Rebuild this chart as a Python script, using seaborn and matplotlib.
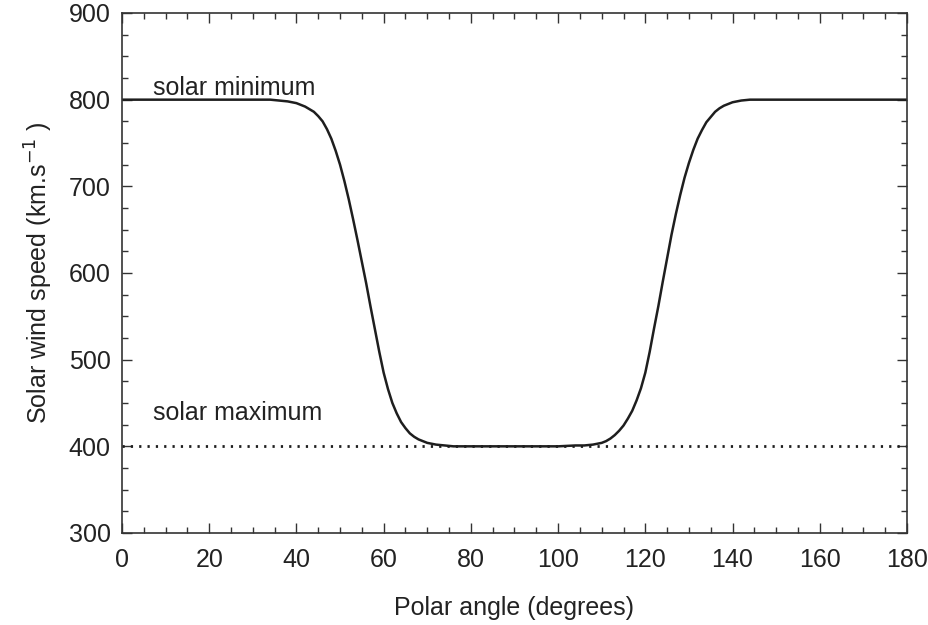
import matplotlib
matplotlib.use("Agg")
import matplotlib.pyplot as plt
import seaborn as sns
import pandas as pd
from matplotlib.ticker import MultipleLocator

# Polar angle (degrees) and solar wind speed (km/s)
angle = [0, 10, 20, 30, 34, 36, 38, 40, 41, 42, 43, 44, 45, 46, 47, 48, 49,
         50, 51, 52, 53, 54, 55, 56, 57, 58, 59, 60, 61, 62, 63, 64, 65, 66,
         67, 68, 69, 70, 72, 74, 76, 80, 90, 100, 104, 106, 108, 110, 111,
         112, 113, 114, 115, 116, 117, 118, 119, 120, 121, 122, 123, 124,
         125, 126, 127, 128, 129, 130, 131, 132, 133, 134, 135, 136, 137,
         138, 139, 140, 142, 144, 146, 160, 180]
speed_min = [800, 800, 800, 800, 800, 799, 798, 796, 794, 792, 789, 786, 781,
             775, 766, 755, 741, 725, 706, 685, 662, 638, 613, 588, 561, 535,
             509, 485, 466, 450, 438, 428, 421, 415, 411, 408, 406, 404, 402,
             401, 400, 400, 400, 400, 401, 401, 402, 404, 406, 409, 413, 418,
             424, 432, 441, 453, 467, 485, 509, 536, 562, 590, 617, 644, 668,
             690, 710, 727, 742, 755, 765, 774, 780, 786, 790, 793, 795, 797,
             799, 800, 800, 800, 800]
max_angle = [0, 180]
speed_max = [400, 400]

x_ticks = [0, 20, 40, 60, 80, 100, 120, 140, 160, 180]
y_ticks = [300, 400, 500, 600, 700, 800, 900]

df_min = pd.DataFrame({"angle": angle, "speed": speed_min})
df_max = pd.DataFrame({"angle": max_angle, "speed": speed_max})

sns.set_theme(style="ticks")
plt.rcParams["font.family"] = ["Liberation Sans", "DejaVu Sans"]

fig = plt.figure(figsize=(9.29, 6.25), dpi=100)
ax = fig.add_axes([0.1313, 0.1472, 0.845, 0.832])

sns.lineplot(data=df_min, x="angle", y="speed", ax=ax, color="#1e1e1e",
             linewidth=1.8, sort=False)
sns.lineplot(data=df_max, x="angle", y="speed", ax=ax, color="#1e1e1e",
             linewidth=2.0, linestyle=(0, (0.8, 2.2)))

ax.set_xlim(0, 180)
ax.set_ylim(300, 900)
ax.set_xticks(x_ticks)
ax.set_yticks(y_ticks)
ax.xaxis.set_minor_locator(MultipleLocator(5))
ax.yaxis.set_minor_locator(MultipleLocator(25))
ax.tick_params(which="both", direction="in", top=True, right=True,
               colors="#333333", labelcolor="#222222", width=1.0)
ax.tick_params(which="major", length=7, labelsize=18)
ax.tick_params(axis="x", which="major", pad=11)
ax.tick_params(axis="y", which="major", pad=8)
ax.tick_params(which="minor", length=4)
for s in ax.spines.values():
    s.set_color("#333333")
    s.set_linewidth(1.2)

ax.set_xlabel("Polar angle (degrees)", fontsize=18, color="#222222", labelpad=17)
ax.set_ylabel("Solar wind speed (km.s$^{-1}$ )", fontsize=18, color="#222222",
              labelpad=10)

ax.text(7.2, 813, "solar minimum", fontsize=18, color="#222222", va="center")
ax.text(7.0, 438, "solar maximum", fontsize=18, color="#222222", va="center")

fig.savefig("out.png", dpi=100, facecolor="white")
